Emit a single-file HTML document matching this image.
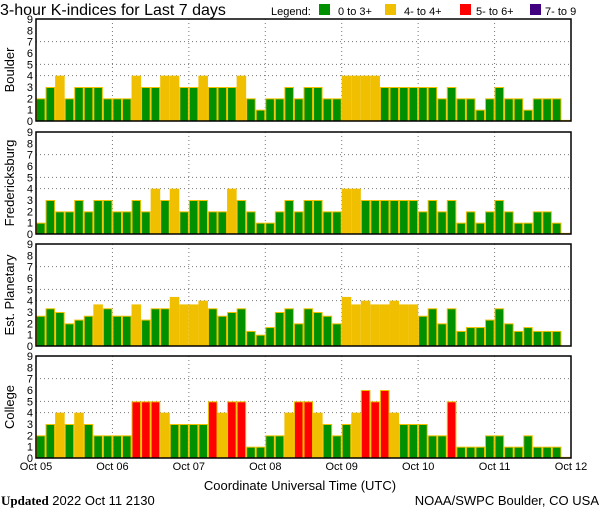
<!DOCTYPE html>
<html><head><meta charset="utf-8"><style>
html,body{margin:0;padding:0;background:#fff;}
svg{display:block;font-family:"Liberation Sans",sans-serif;}
</style></head><body>
<svg id="s" width="600" height="510" xmlns="http://www.w3.org/2000/svg">
<text x="0" y="15" font-size="16" fill="#000">3-hour K-indices for Last 7 days</text>
<text x="271" y="15" font-size="11">Legend:</text>
<rect x="319" y="4" width="11" height="11" fill="#009000"/>
<text x="338" y="15" font-size="11">0 to 3+</text>
<rect x="385" y="4" width="11" height="11" fill="#f0c000"/>
<text x="404" y="15" font-size="11">4- to 4+</text>
<rect x="460" y="4" width="11" height="11" fill="#ff0000"/>
<text x="476" y="15" font-size="11">5- to 6+</text>
<rect x="530" y="4" width="11" height="11" fill="#400080"/>
<text x="545" y="15" font-size="11">7- to 9</text>
<text x="300" y="490" font-size="13" text-anchor="middle">Coordinate Universal Time (UTC)</text>
<text x="1" y="505" font-size="13"><tspan font-family="Liberation Serif,serif" font-weight="bold">Updated</tspan> 2022 Oct 11 2130</text>
<text x="599" y="505" font-size="13" text-anchor="end">NOAA/SWPC Boulder, CO USA</text>
</svg>
<script>
var s=document.getElementById('s'),NS='http://www.w3.org/2000/svg';
function el(t,a,txt){var e=document.createElementNS(NS,t);for(var k in a)e.setAttribute(k,a[k]);if(txt!=null)e.textContent=txt;s.appendChild(e);return e;}
var x0=36,x1=571,bw=(x1-x0)/56;
var P=[
{n:"Boulder",t:19,b:121,v:[2,3,4,2,3,3,3,2,2,2,4,3,3,4,4,3,3,4,3,3,3,4,2,1,2,2,3,2,3,3,2,2,4,4,4,4,3,3,3,3,3,3,2,3,2,2,1,2,3,2,2,1,2,2,2,0.1]},
{n:"Fredericksburg",t:132,b:234,v:[1,3,2,2,3,2,3,3,2,2,3,2,4,3,4,2,3,3,2,2,4,3,2,1,1,2,3,2,3,3,2,2,4,4,3,3,3,3,3,3,2,3,2,3,1,2,1,2,3,2,1,1,2,2,1,0.1]},
{n:"Est. Planetary",t:244,b:346,v:[2.67,3.33,3,2,2.33,2.67,3.67,3.33,2.67,2.67,3.67,2.33,3.33,3.33,4.33,3.67,3.67,4,3.33,2.67,3,3.33,1.33,1,1.67,3,3.33,2,3.33,3,2.67,2,4.33,3.67,4,3.67,3.67,4,3.67,3.67,2.67,3.33,2,3.33,1.33,1.67,1.67,2.33,3.33,2,1.33,1.67,1.33,1.33,1.33,0]},
{n:"College",t:356,b:458,v:[2,3,4,3,4,3,2,2,2,2,5,5,5,4,3,3,3,3,5,4,5,5,1,1,2,2,4,5,5,4,3,2,3,4,6,5,6,4,3,3,3,2,2,5,1,1,1,2,2,1,1,2,1,1,1,0.1]}
];
P.forEach(function(p){
 var u=(p.b-p.t)/9;
 [4,5,7].forEach(function(g){var y=p.b-g*u;el('line',{x1:x0,x2:x1,y1:y,y2:y,stroke:'#777','stroke-dasharray':'1,3'});});
 for(var d=1;d<7;d++){var x=x0+d*8*bw;el('line',{x1:x,x2:x,y1:p.t,y2:p.b,stroke:'#777','stroke-dasharray':'1,3'});}
 p.v.slice(0,56).forEach(function(v,i){
  if(v<=0)return;
  var c=v>=6.5?'#400080':v>=4.5?'#ff0000':v>=3.5?'#f0c000':'#009000';
  var h=v*u,x=x0+i*bw;
  el('rect',{x:x+0.5,y:p.b-h+0.5,width:bw-1,height:h-0.5,fill:c,stroke:'#f0c000','stroke-width':1});
 });
 el('rect',{x:x0,y:p.t,width:x1-x0,height:p.b-p.t,fill:'none',stroke:'#000','stroke-width':1.5});
 for(var k=0;k<=9;k++){el('text',{x:33,y:p.b-k*u+4,'font-size':11,'text-anchor':'end'},k);}
 var cy=(p.t+p.b)/2;
 el('text',{x:14,y:cy,'font-size':13,'text-anchor':'middle',transform:'rotate(-90 14 '+cy+')'},p.n);
});
for(var d=0;d<=7;d++){var x=x0+d*8*bw;el('text',{x:x,y:470,'font-size':11,'text-anchor':'middle'},'Oct '+('0'+(5+d)).slice(-2));}
</script>
</body></html>
